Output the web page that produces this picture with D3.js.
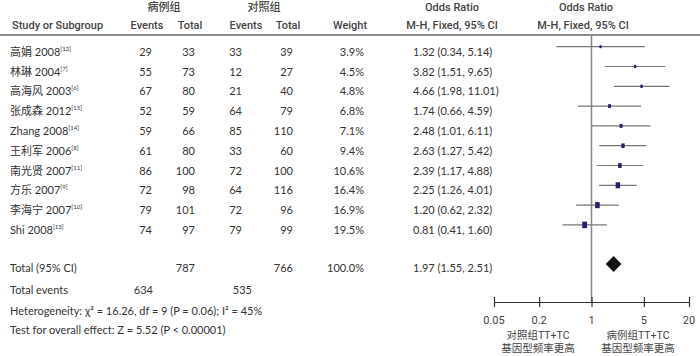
<!DOCTYPE html>
<html><head><meta charset="utf-8">
<script src="https://cdn.jsdelivr.net/npm/d3@7"></script>
<style>
body{margin:0;background:#fff;}
svg{display:block;}
.t{font-family:Lato,"Noto Sans CJK SC",sans-serif;font-size:11px;fill:#333;}
.h{font-family:Roboto,"Noto Sans CJK SC",sans-serif;font-size:11px;font-weight:500;fill:#444;}
</style></head>
<body>
<script>
const studies = ["高娟 2008","林琳 2004","高海风 2003","张成森 2012","Zhang 2008","王利军 2006","南光贤 2007","方乐 2007","李海宁 2007","Shi 2008"];
const refs = ["12","7","6","15","14","8","11","9","10","13"];
const caseEvents = [29,55,67,52,59,61,86,72,79,74];
const caseTotal = [33,73,80,59,66,80,100,98,101,97];
const ctrlEvents = [33,12,21,64,85,33,72,64,72,79];
const ctrlTotal = [39,27,40,79,110,60,100,116,96,99];
const weights = [3.9,4.5,4.8,6.8,7.1,9.4,10.6,16.4,16.9,19.5];
const orVal = [1.32,3.82,4.66,1.74,2.48,2.63,2.39,2.25,1.20,0.81];
const orLo = [0.34,1.51,1.98,0.66,1.01,1.27,1.17,1.26,0.62,0.41];
const orHi = [5.14,9.65,11.01,4.59,6.11,5.42,4.88,4.01,2.32,1.60];
const total = {caseTotal:787, ctrlTotal:766, weight:"100.0%", or:1.97, lo:1.55, hi:2.51, caseEvents:634, ctrlEvents:535};
const tickValues = [0.05,0.2,1,5,20];
const tickLabels = ["0.05","0.2","1","5","20"];
const favourLeft = ["对照组TT+TC","基因型频率更高"];
const favourRight = ["病例组TT+TC","基因型频率更高"];

const W=700,H=356;
const svg=d3.select("body").append("svg").attr("width",W).attr("height",H);

const x=d3.scaleLog().domain([0.05,20]).range([494,689]);
const y=d3.scaleLinear().domain([0,9]).range([51.7,229.9]);
const fmt=d3.format(".2f");
const fmtW=d3.format(".1f");

// headers
svg.append("text").attr("class","h").attr("x",164).attr("y",11).attr("text-anchor","middle").text("病例组");
svg.append("text").attr("class","h").attr("x",264).attr("y",11).attr("text-anchor","middle").text("对照组");
svg.append("text").attr("class","h").attr("x",452).attr("y",11).attr("text-anchor","middle").text("Odds Ratio");
svg.append("text").attr("class","h").attr("x",586).attr("y",11).attr("text-anchor","middle").text("Odds Ratio");
const h2=[["Study or Subgroup",12,"start"],["Events",147,"middle"],["Total",190,"middle"],["Events",246,"middle"],["Total",288,"middle"],["Weight",350,"middle"],["M-H, Fixed, 95% CI",452,"middle"],["M-H, Fixed, 95% CI",583,"middle"]];
h2.forEach(d=>svg.append("text").attr("class","h").attr("x",d[1]).attr("y",29).attr("text-anchor",d[2]).text(d[0]));
svg.append("line").attr("x1",0).attr("x2",700).attr("y1",35).attr("y2",35).attr("stroke","#666").attr("stroke-width",1.5);

// rows
const rows=svg.append("g");
studies.forEach((s,i)=>{
  const yy=y(i)+4;
  const t=rows.append("text").attr("class","t").attr("x",10).attr("y",yy);
  t.append("tspan").text(s);
  t.append("tspan").attr("font-size","6px").attr("dy",-5).text("["+refs[i]+"]");
  rows.append("text").attr("class","t").attr("x",152).attr("y",yy).attr("text-anchor","end").text(caseEvents[i]);
  rows.append("text").attr("class","t").attr("x",195).attr("y",yy).attr("text-anchor","end").text(caseTotal[i]);
  rows.append("text").attr("class","t").attr("x",242).attr("y",yy).attr("text-anchor","end").text(ctrlEvents[i]);
  rows.append("text").attr("class","t").attr("x",293).attr("y",yy).attr("text-anchor","end").text(ctrlTotal[i]);
  rows.append("text").attr("class","t").attr("x",364).attr("y",yy).attr("text-anchor","end").text(fmtW(weights[i])+"%");
  rows.append("text").attr("class","t").attr("x",413).attr("y",yy).text(fmt(orVal[i])+" ("+fmt(orLo[i])+", "+fmt(orHi[i])+")");
});

// total rows
const ty=268+4;
svg.append("text").attr("class","t").attr("x",10).attr("y",ty).text("Total (95% CI)");
svg.append("text").attr("class","t").attr("x",195).attr("y",ty).attr("text-anchor","end").text(total.caseTotal);
svg.append("text").attr("class","t").attr("x",293).attr("y",ty).attr("text-anchor","end").text(total.ctrlTotal);
svg.append("text").attr("class","t").attr("x",364).attr("y",ty).attr("text-anchor","end").text(total.weight);
svg.append("text").attr("class","t").attr("x",413).attr("y",ty).text(fmt(total.or)+" ("+fmt(total.lo)+", "+fmt(total.hi)+")");
svg.append("text").attr("class","t").attr("x",10).attr("y",294).text("Total events");
svg.append("text").attr("class","t").attr("x",153).attr("y",294).attr("text-anchor","end").text(total.caseEvents);
svg.append("text").attr("class","t").attr("x",252).attr("y",294).attr("text-anchor","end").text(total.ctrlEvents);
svg.append("text").attr("class","t").attr("x",10).attr("y",315).text("Heterogeneity: χ² = 16.26, df = 9 (P = 0.06); I² = 45%");
svg.append("text").attr("class","t").attr("x",10).attr("y",334).text("Test for overall effect: Z = 5.52 (P < 0.00001)");

// forest
svg.append("line").attr("x1",x(1)).attr("x2",x(1)).attr("y1",35).attr("y2",302).attr("stroke","#888").attr("stroke-width",1.5);
const f=svg.append("g");
studies.forEach((s,i)=>{
  const yy=y(i)-5;
  f.append("line").attr("x1",x(orLo[i])).attr("x2",x(orHi[i])).attr("y1",yy).attr("y2",yy).attr("stroke","#777").attr("stroke-width",1.2);
  const w=1.1*Math.sqrt(weights[i]), h=1.35*w;
  f.append("rect").attr("x",x(orVal[i])-w/2).attr("y",yy-h/2).attr("width",w).attr("height",h).attr("fill","#2d1b6e");
});
const dy=264;
svg.append("path").attr("d",`M${x(total.lo)},${dy}L${x(total.or)},${dy-8}L${x(total.hi)},${dy}L${x(total.or)},${dy+8}Z`).attr("fill","#111");

// axis
const ax=svg.append("g").attr("transform","translate(0,302)")
  .call(d3.axisBottom(x).tickValues(tickValues).tickFormat((d,i)=>tickLabels[i]).tickSize(0).tickPadding(0));
ax.select(".domain").attr("stroke","#333").attr("stroke-width",1.2);
ax.selectAll(".tick text").remove();
ax.selectAll(".tick").append("line").attr("y1",-5).attr("y2",5).attr("stroke","#333").attr("stroke-width",1.2);
tickValues.forEach((v,i)=>svg.append("text").attr("class","h").style("font-weight","400").attr("x",x(v)).attr("y",324).attr("text-anchor","middle").text(tickLabels[i]));
favourLeft.forEach((s,i)=>svg.append("text").attr("class","h").style("font-weight","400").style("font-size","10.5px").attr("x",538).attr("y",339+i*13).attr("text-anchor","middle").text(s));
favourRight.forEach((s,i)=>svg.append("text").attr("class","h").style("font-weight","400").style("font-size","10.5px").attr("x",638).attr("y",339+i*13).attr("text-anchor","middle").text(s));
</script>
</body></html>
